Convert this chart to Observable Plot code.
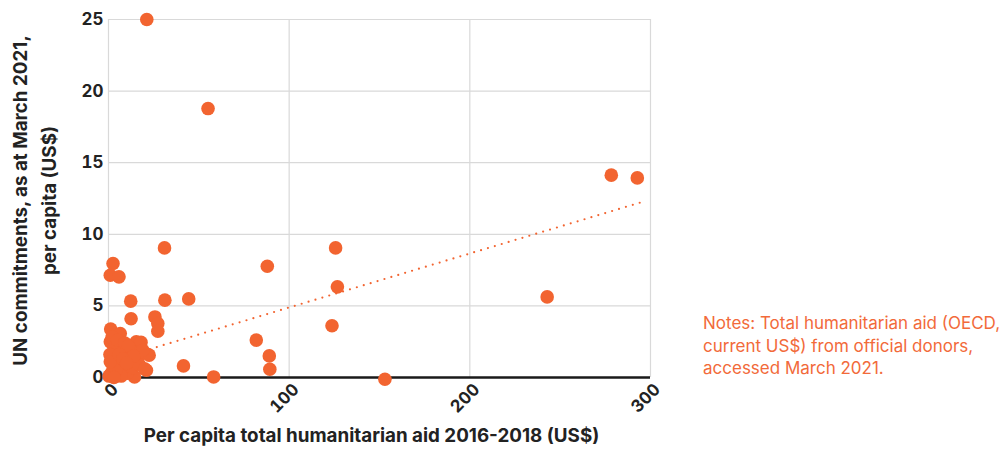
<!DOCTYPE html>
<html><head><meta charset="utf-8">
<script src="https://cdn.jsdelivr.net/npm/d3@7"></script>
<script src="https://cdn.jsdelivr.net/npm/@observablehq/plot@0.6"></script>
<style>
body{margin:0;background:#fff;font-family:Inter,"Noto Sans",sans-serif;}
#wrap{position:relative;width:1008px;height:454px;overflow:hidden;}
#notes{position:absolute;left:703px;top:312px;font-size:17px;line-height:22.5px;color:#f26a3a;white-space:nowrap;}
</style></head><body>
<div id="wrap"><div id="chart"></div>
<div id="notes">Notes: Total humanitarian aid (OECD,<br>current US$) from official donors,<br>accessed March 2021.</div></div>
<script>
// Per capita total humanitarian aid 2016-2018 (US$)
const aid = [21.2, 55.1, 278.3, 292.7, 31.0, 125.7, 87.9, 2.5, 1.0, 5.8, 12.3, 31.2, 44.4, 126.7, 242.8,
  12.5, 25.7, 27.3, 27.3, 123.7, 81.8, 89.0, 89.3, 41.5, 58.2, 153.0, 1.2, 6.5, 1.0, 15.4, 22.5, 21.0, 14.4, 18.0,
  0.3, 1.5, 2.5, 3.5, 4.5, 5.5, 6.5, 7.5, 8.5, 9.5, 10.5, 11.5, 12.5, 13.5, 3.0, 0.8, 2.0, 5.0, 9.0, 16.0, 17.0,
  19.0, 7.0, 4.0, 1.0, 11.0, 14.0, 6.0, 20.0, 8.0, 3.0, 10.0];
// UN commitments, as at March 2021, per capita (US$)
const un = [25.0, 18.78, 14.13, 13.94, 9.05, 9.05, 7.77, 7.96, 7.14, 7.03, 5.33, 5.40, 5.49, 6.33, 5.63,
  4.1, 4.23, 3.77, 3.23, 3.61, 2.61, 1.51, 0.58, 0.81, 0.04, -0.12, 3.38, 3.07, 2.49, 2.49, 1.56, 0.51, 0.04, 2.45,
  0.1, 0.3, 0.8, 1.3, 1.8, 0.2, 1.0, 2.1, 0.6, 1.5, 0.3, 1.1, 1.9, 0.7, 2.2, 1.6, 2.8, 2.6, 2.4, 1.3, 0.9,
  1.9, 0.1, 0.5, 1.1, 2.2, 1.5, 1.6, 0.6, 1.3, 0.0, 1.0];
// trend line (linear fit) endpoints
const trendX = [0, 295];
const trendY = [1.12, 12.24];
const xTicks = [0, 100, 200, 300];
const yTicks = [0, 5, 10, 15, 20, 25];
const xLabel = "Per capita total humanitarian aid 2016-2018 (US$)";
const yLabel = "UN commitments, as at March 2021,\nper capita (US$)";

const points = aid.map((a, i) => ({aid: a, un: un[i]}));
const trend = trendX.map((x, i) => ({x, y: trendY[i]}));
const orange = "#f26430";

const chart = Plot.plot({
  width: 700, height: 454,
  marginLeft: 108, marginRight: 50, marginTop: 19, marginBottom: 77,
  style: {fontFamily: "Inter, 'Noto Sans', sans-serif", fontSize: "17px", color: "#222", background: "#fff"},
  x: {domain: [0, 300]},
  y: {domain: [0, 25]},
  marks: [
    Plot.gridX(xTicks, {stroke: "#d9d9d9", strokeOpacity: 1, strokeWidth: 1.2}),
    Plot.gridY(yTicks, {stroke: "#d9d9d9", strokeOpacity: 1, strokeWidth: 1.2}),
    Plot.ruleY([0], {stroke: "#1a1a1a", strokeWidth: 2.5}),
    Plot.axisY(yTicks, {tickSize: 0, tickPadding: 5, fontWeight: 700, fontSize: 17, label: null}),
    Plot.axisX(xTicks, {tickSize: 0, tickPadding: 6, tickRotate: -45, dx: 7, dy: 3, fontWeight: 700, fontSize: 17, label: null}),
    Plot.line(trend, {x: "x", y: "y", stroke: orange, strokeWidth: 2.2, strokeDasharray: "0 7.2", strokeLinecap: "round"}),
    Plot.dot(points, {x: "aid", y: "un", r: 6.8, fill: orange, stroke: "none"}),
    Plot.text([xLabel], {frameAnchor: "bottom", dx: -8, dy: 64, text: d => d, fontWeight: 700, fontSize: 18.8, fill: "#222"}),
    Plot.text([yLabel], {frameAnchor: "left", textAnchor: "middle", dx: -76, dy: 2, rotate: -90, text: d => d, fontWeight: 700, fontSize: 18.8, lineHeight: 1.55, fill: "#222"})
  ]
});
document.getElementById("chart").appendChild(chart);
</script>
</body></html>
